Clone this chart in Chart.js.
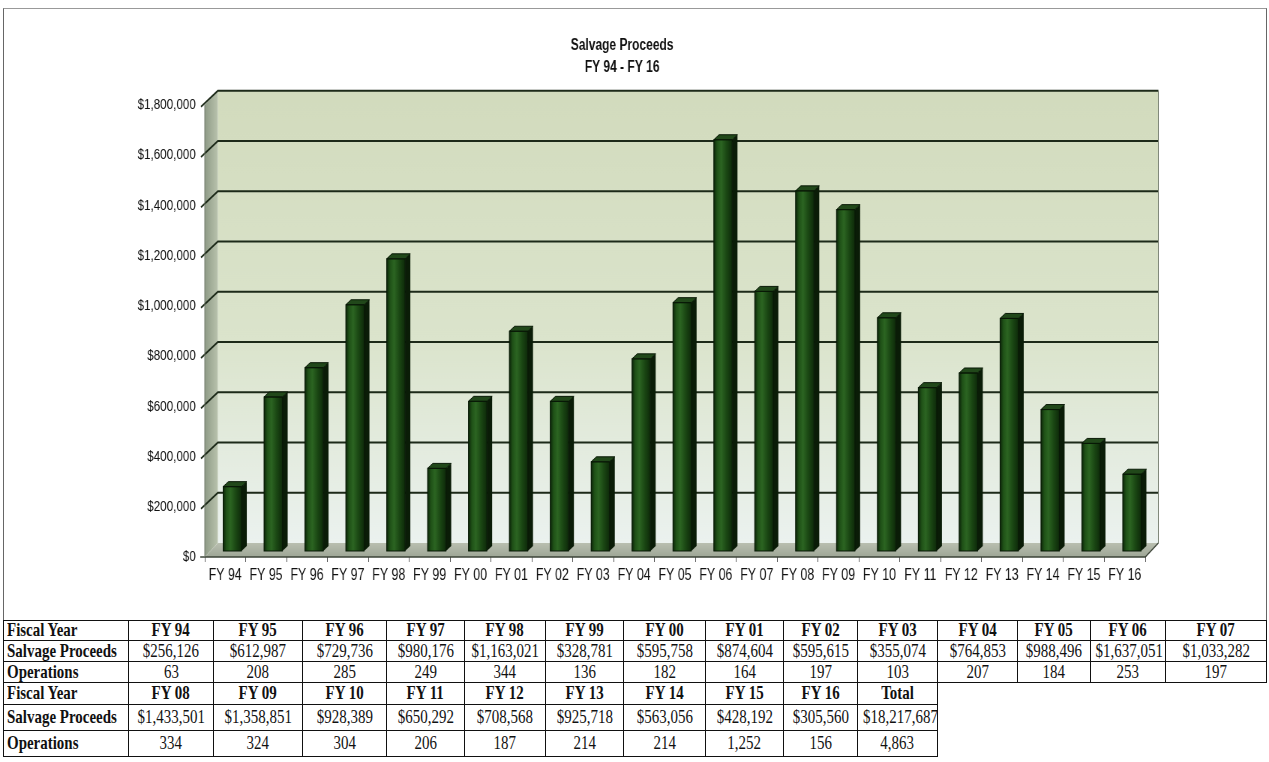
<!DOCTYPE html>
<html>
<head>
<meta charset="utf-8">
<title>Salvage Proceeds FY 94 - FY 16</title>
<script src="https://cdn.jsdelivr.net/npm/chart.js@4.4.1/dist/chart.umd.min.js"></script>
<style>
  html, body { margin: 0; padding: 0; background: #fff; }
  body { width: 1269px; height: 762px; position: relative; overflow: hidden; }
  #frame { position: absolute; left: 3px; top: 8px; width: 1262px; height: 611px;
           border: 1px solid #666; border-top-color: #999; border-bottom: none; }
  /* the chart is laid out wide and squeezed horizontally for a condensed type look */
  #wrap { position: absolute; left: 0; top: 0; width: 1692px; height: 620px;
          transform: scaleX(0.75); transform-origin: 0 0; }
  #data { position: absolute; left: 3px; top: 620px; border-collapse: collapse;
          table-layout: fixed; font-family: "Liberation Serif", "Times New Roman", serif;
          font-size: 17px; color: #111; }
  #data td { border: 1px solid #111; padding: 0; text-align: center; white-space: nowrap;
             overflow: hidden; line-height: 1; }
  #data td.lab { text-align: left; padding-left: 3px; font-weight: bold; }
  #data td.hd { font-weight: bold; }
  #data td.empty { border: none; }
  #data td span { display: inline-block; transform: scale(0.88, 1.05); }
  #data td.lab span { transform-origin: left center; }
</style>
</head>
<body>
<div id="frame"></div>
<div id="wrap"><canvas id="chart" width="1692" height="620"></canvas></div>
<table id="data"></table>
<script>
// Fiscal years, salvage proceeds ($) and number of operations
const categories = ['FY 94','FY 95','FY 96','FY 97','FY 98','FY 99','FY 00','FY 01','FY 02','FY 03','FY 04','FY 05',
                    'FY 06','FY 07','FY 08','FY 09','FY 10','FY 11','FY 12','FY 13','FY 14','FY 15','FY 16'];
const proceeds = [256126, 612987, 729736, 980176, 1163021, 328781, 595758, 874604, 595615, 355074, 764853, 988496,
                  1637051, 1033282, 1433501, 1358851, 928389, 650292, 708568, 925718, 563056, 428192, 305560];
const operations = [63, 208, 285, 249, 344, 136, 182, 164, 197, 103, 207, 184,
                    253, 197, 334, 324, 304, 206, 187, 214, 214, 1252, 156];
const rowLabels = ['Fiscal Year', 'Salvage Proceeds', 'Operations'];
const totalLabel = 'Total';
const totalProceeds = 18217687;
const totalOperations = 4863;
const yTickValues = [0, 200000, 400000, 600000, 800000, 1000000, 1200000, 1400000, 1600000, 1800000];

const money = v => '$' + v.toLocaleString('en-US');
const count = v => v.toLocaleString('en-US');

// ---------- 3-D look: walls, floor, gridlines and bar faces ----------
// horizontal values are in the un-squeezed canvas space
const DEPTH = { x: 17.5, y: -14 };    // wall depth
const BAR_SHIFT = { x: 9.5, y: -6 };  // bars stand midway in the depth
const BAR_DEPTH = { x: 7, y: -5 };

const wallsPlugin = {
  id: 'walls3d',
  beforeDatasetsDraw(chart) {
    const { ctx, chartArea: a, scales } = chart;
    const L = a.left, R = a.right, T = a.top, B = a.bottom;
    const dx = DEPTH.x, dy = DEPTH.y;
    ctx.save();
    // back wall
    let g = ctx.createLinearGradient(0, T + dy, 0, B + dy);
    g.addColorStop(0, '#d2dbbd');
    g.addColorStop(0.55, '#dbe4cc');
    g.addColorStop(1, '#ebf2ef');
    ctx.fillStyle = g;
    ctx.fillRect(L + dx, T + dy, R - L, B - T);
    // left side wall
    g = ctx.createLinearGradient(L, 0, L + dx, 0);
    g.addColorStop(0, '#8e9a86');
    g.addColorStop(1, '#b9c3ad');
    ctx.fillStyle = g;
    ctx.beginPath();
    ctx.moveTo(L, T); ctx.lineTo(L + dx, T + dy); ctx.lineTo(L + dx, B + dy); ctx.lineTo(L, B);
    ctx.closePath(); ctx.fill();
    // floor
    g = ctx.createLinearGradient(0, B + dy, 0, B);
    g.addColorStop(0, '#b9bfb0');
    g.addColorStop(1, '#9ea696');
    ctx.fillStyle = g;
    ctx.beginPath();
    ctx.moveTo(L, B); ctx.lineTo(L + dx, B + dy); ctx.lineTo(R + dx, B + dy); ctx.lineTo(R, B);
    ctx.closePath(); ctx.fill();
    // gridlines on side wall and back wall
    ctx.strokeStyle = '#1d2a19';
    ctx.lineWidth = 2;
    yTickValues.forEach(v => {
      if (v === 0) return;
      const y = scales.y.getPixelForValue(v);
      ctx.beginPath();
      ctx.moveTo(L - 5, y + 2);
      ctx.lineTo(L + dx, y + dy);
      ctx.lineTo(R + dx, y + dy);
      ctx.stroke();
    });
    // floor edges
    ctx.lineWidth = 1.5;
    ctx.strokeStyle = '#3c4438';
    ctx.beginPath();
    ctx.moveTo(L - 6, B); ctx.lineTo(R, B); ctx.lineTo(R + dx, B + dy);
    ctx.stroke();
    ctx.strokeStyle = '#6f7868';
    ctx.lineWidth = 1;
    ctx.beginPath();
    ctx.moveTo(L, B); ctx.lineTo(L, T);
    ctx.moveTo(R + dx, B + dy); ctx.lineTo(R + dx, T + dy);
    ctx.stroke();
    ctx.restore();
    // bars are drawn midway into the depth
    ctx.save();
    ctx.translate(BAR_SHIFT.x, BAR_SHIFT.y);
  },
  afterDatasetsDraw(chart) {
    const { ctx } = chart;
    const meta = chart.getDatasetMeta(0);
    meta.data.forEach(bar => {
      const p = bar.getProps(['x', 'y', 'base', 'width'], true);
      const x0 = p.x - p.width / 2, x1 = p.x + p.width / 2;
      const top = p.y, base = p.base;
      const bx = BAR_DEPTH.x, by = BAR_DEPTH.y;
      // front face shading
      const g = ctx.createLinearGradient(x0, 0, x1, 0);
      g.addColorStop(0, '#0c2409');
      g.addColorStop(0.18, '#1f5117');
      g.addColorStop(0.4, '#2c6522');
      g.addColorStop(0.7, '#1a4613');
      g.addColorStop(1, '#0e2a0a');
      ctx.fillStyle = g;
      ctx.fillRect(x0, top, x1 - x0, base - top);
      // side face
      ctx.fillStyle = '#0a1c07';
      ctx.beginPath();
      ctx.moveTo(x1, top); ctx.lineTo(x1 + bx, top + by); ctx.lineTo(x1 + bx, base + by); ctx.lineTo(x1, base);
      ctx.closePath(); ctx.fill();
      // top face
      ctx.fillStyle = '#21481a';
      ctx.strokeStyle = '#0a1a07';
      ctx.lineWidth = 1;
      ctx.beginPath();
      ctx.moveTo(x0, top); ctx.lineTo(x0 + bx, top + by); ctx.lineTo(x1 + bx, top + by); ctx.lineTo(x1, top);
      ctx.closePath(); ctx.fill(); ctx.stroke();
      ctx.strokeStyle = '#081806';
      ctx.strokeRect(x0, top, x1 - x0, base - top);
    });
    ctx.restore();
  }
};

const fontFamily = '"Liberation Sans", Arial, sans-serif';

new Chart(document.getElementById('chart'), {
  type: 'bar',
  data: {
    labels: categories,
    datasets: [{
      label: 'Salvage Proceeds',
      data: proceeds,
      backgroundColor: '#1d4a15',
      borderWidth: 0,
      barPercentage: 0.45,
      categoryPercentage: 1.0,
      clip: false
    }]
  },
  options: {
    responsive: false,
    animation: false,
    layout: { padding: { left: 132, right: 165, top: 0, bottom: 0 } },
    plugins: {
      legend: { display: false },
      tooltip: { enabled: false },
      title: {
        display: true,
        text: ['Salvage Proceeds', 'FY 94 - FY 16'],
        color: '#111',
        font: { family: fontFamily, size: 16, weight: 'bold', lineHeight: 1.4 },
        padding: { top: 34, bottom: 26 }
      }
    },
    scales: {
      x: {
        grid: { display: true, drawOnChartArea: false, offset: true, drawTicks: true, tickLength: 5, color: '#555' },
        border: { display: false },
        ticks: { color: '#111', font: { family: fontFamily, size: 16.5 }, padding: 4, maxRotation: 0, autoSkip: false },
        afterFit(scale) { scale.height = 63; }
      },
      y: {
        min: 0, max: 1800000,
        grid: { display: false, drawTicks: false },
        border: { display: false },
        ticks: {
          stepSize: 200000,
          color: '#111',
          font: { family: fontFamily, size: 15.5 },
          padding: 12,
          callback: v => money(v)
        },
        afterFit(scale) { scale.width = 141; }
      }
    }
  },
  plugins: [wallsPlugin]
});

// ---------- data table below the chart ----------
const colEdges = [0, 125, 210, 299, 383, 461, 542, 620, 702, 780, 854, 934, 1014, 1087, 1162, 1263];
const rowHeights = [20, 21, 21, 22, 26, 26];
const table = document.getElementById('data');
const cg = document.createElement('colgroup');
for (let i = 1; i < colEdges.length; i++) {
  const c = document.createElement('col');
  c.style.width = (colEdges[i] - colEdges[i - 1]) + 'px';
  cg.appendChild(c);
}
table.appendChild(cg);
table.style.width = colEdges[colEdges.length - 1] + 'px';

function cell(tr, text, cls) {
  const td = document.createElement('td');
  if (cls) td.className = cls;
  if (text !== null) {
    const s = document.createElement('span');
    s.textContent = text;
    td.appendChild(s);
  }
  tr.appendChild(td);
  return td;
}

const blocks = [
  { years: categories.slice(0, 14), money: proceeds.slice(0, 14).map(money), ops: operations.slice(0, 14).map(count) },
  { years: categories.slice(14).concat([totalLabel]),
    money: proceeds.slice(14).map(money).concat([money(totalProceeds)]),
    ops: operations.slice(14).map(count).concat([count(totalOperations)]) }
];
let r = 0;
blocks.forEach(b => {
  [b.years, b.money, b.ops].forEach((vals, k) => {
    const tr = document.createElement('tr');
    tr.style.height = rowHeights[r++] + 'px';
    cell(tr, rowLabels[k], 'lab');
    for (let i = 0; i < 14; i++) {
      if (i < vals.length) cell(tr, vals[i], k === 0 ? 'hd' : '');
      else cell(tr, null, 'empty');
    }
    table.appendChild(tr);
  });
});
</script>
</body>
</html>
